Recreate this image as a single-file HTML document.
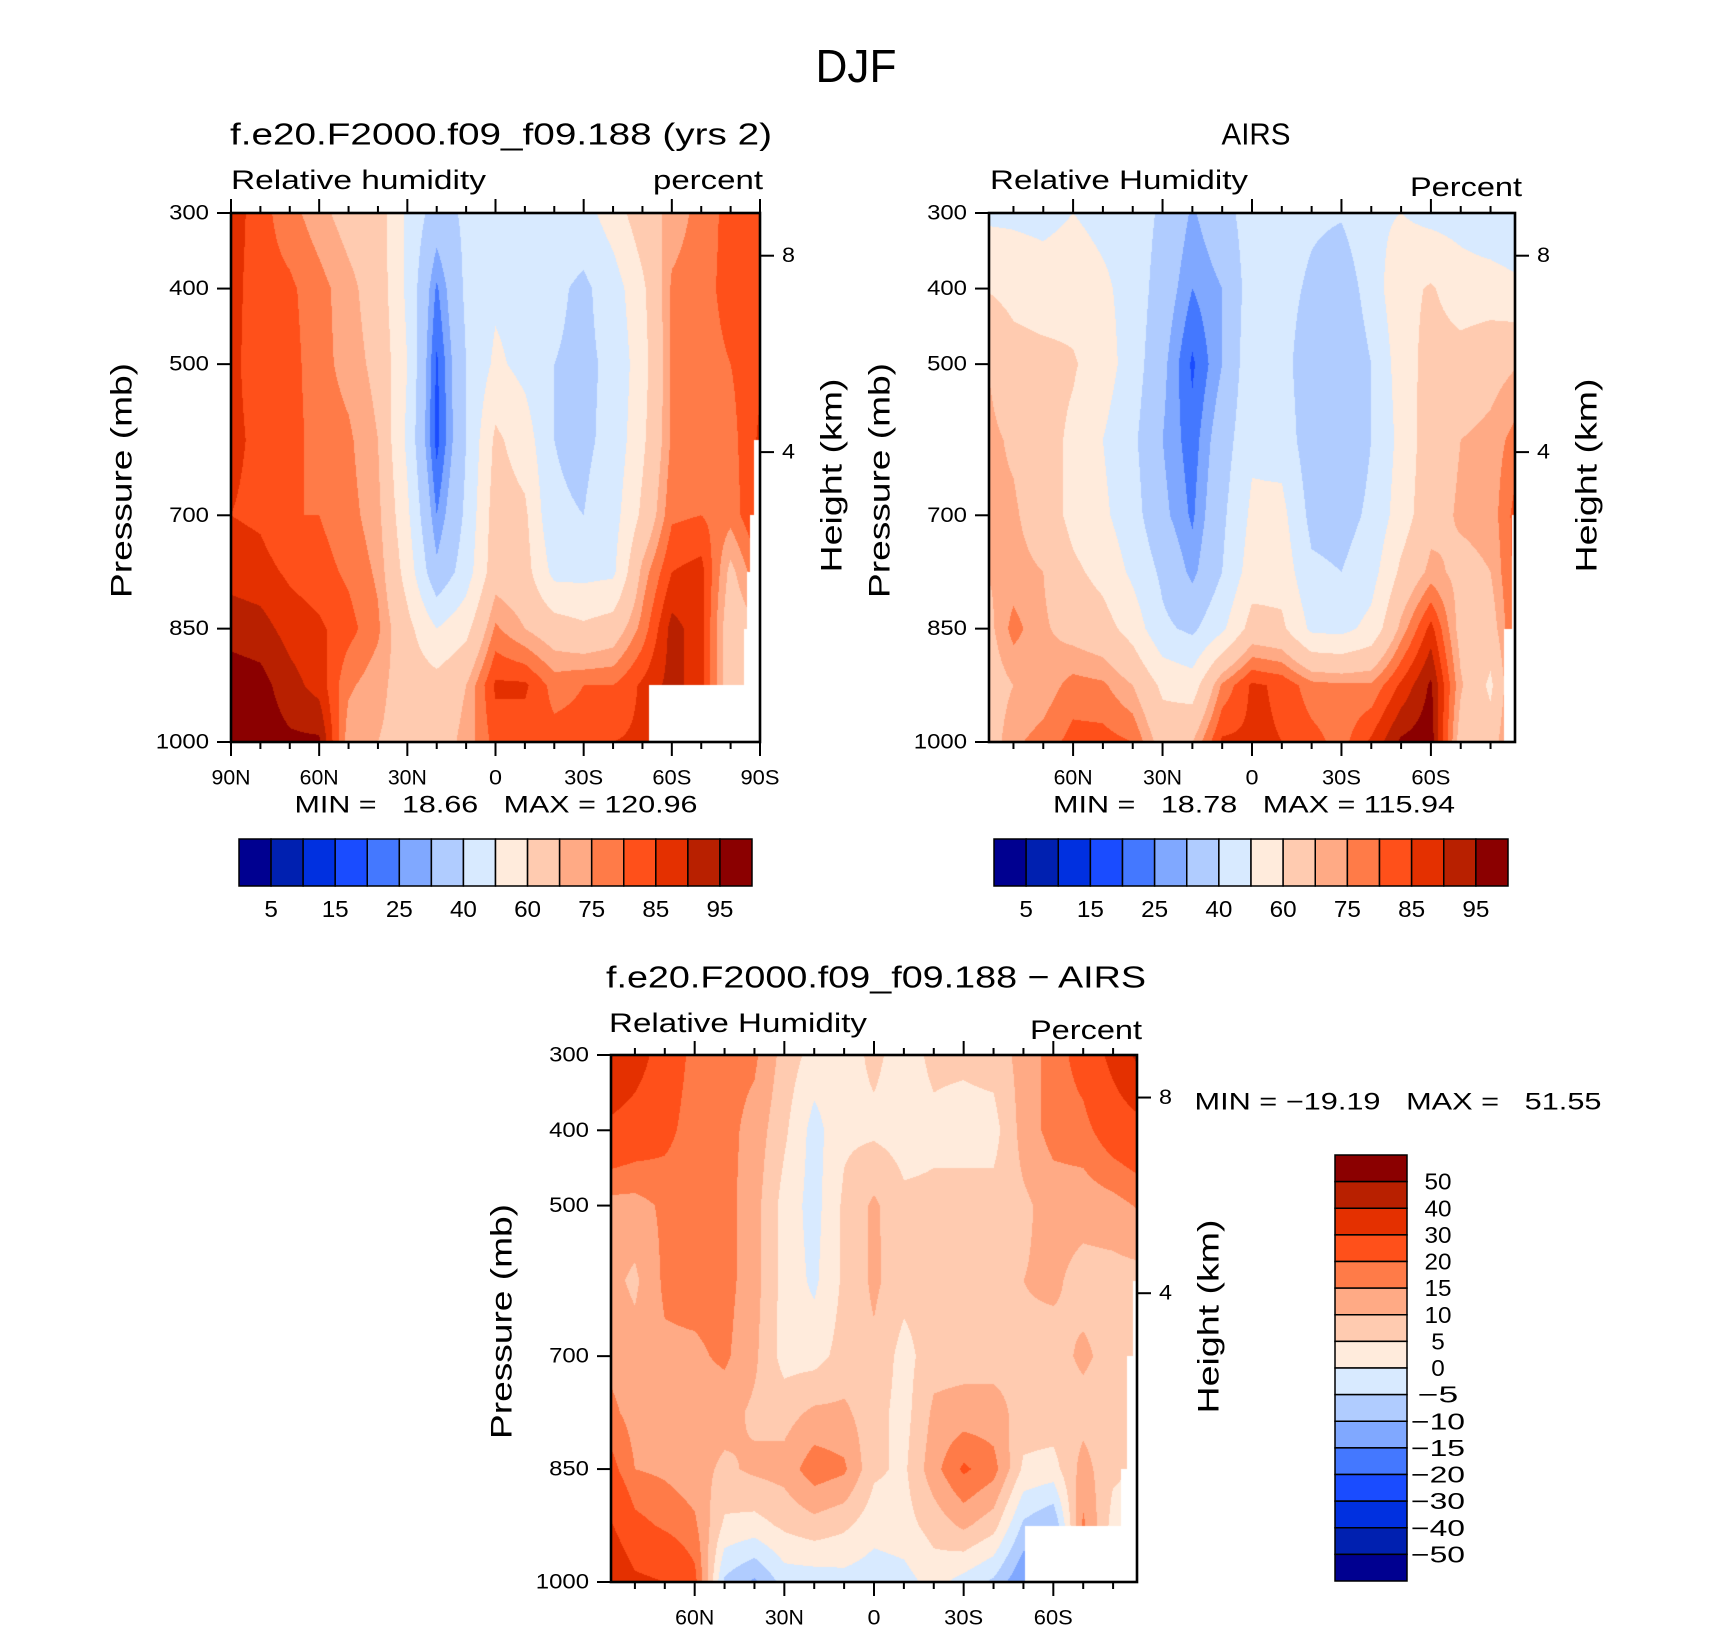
<!DOCTYPE html>
<html><head><meta charset="utf-8">
<style>
html,body{margin:0;padding:0;background:#fff;}
#wrap{position:relative;width:1710px;height:1631px;overflow:hidden;background:#fff;font-family:"Liberation Sans",sans-serif;}
canvas{position:absolute;}
#ov{position:absolute;left:0;top:0;}
text{white-space:pre;}
</style></head>
<body>
<div id="wrap">
<canvas id="c1"></canvas>
<canvas id="c2"></canvas>
<canvas id="c3"></canvas>
<svg id="ov" width="1710" height="1631"></svg>
</div>
<script>
// ---------- data ----------
const lats = [90,80,70,60,50,40,30,20,10,0,-10,-20,-30,-40,-50,-60,-70,-80,-90];
const levs = [300,400,500,600,700,775,850,925,1000];
const rhLevels = [5,10,15,20,25,30,40,50,60,70,75,80,85,90,95];
const rhLabels = ["5","","15","","25","","40","","60","","75","","85","","95"];
const diffLevels = [-50,-40,-30,-20,-15,-10,-5,0,5,10,15,20,30,40,50];
const diffLabels = ["50","40","30","20","15","10","5","0","\u22125","\u221210","\u221215","\u221220","\u221230","\u221240","\u221250"];
const fills = ['#000090','#0020B0','#0030E0','#1A4CFF','#4478FF','#80A8FF','#B0CCFF','#D8EAFF','#FFEBDC','#FFCBB0','#FFAA85','#FF7B48','#FF501A','#E43000','#B82000','#8B0000'];
const model = [
[88,82,77,72,67,65,48,35,42,48,47,46,46,55,66,72,77,82,82],
[87,82,81,77,72,66,48,24,42,48,46,42,38,45,58,76,78,82,82],
[86,83,82,77,73,68,50,19,40,52,47,40,38,42,56,76,78,80,84],
[86,84,82,78,76,70,48,18,40,62,55,40,38,43,58,76,80,78,86],
[85,84,80,80,77,72,52,25,42,65,62,41,40,46,62,79,80,77,86],
[88,87,84,82,79,74,56,32,45,66,64,47,47,48,72,85,87,68,80],
[93,92,88,86,82,76,63,50,57,76,70,65,62,65,77,92,87,64,70],
[98,97,92,88,76,72,66,64,70,86,86,78,80,80,86,92,87,64,70],
[98,98,96,96,72,70,67,66,72,82,82,82,82,85,86,90,87,64,70]];
const airs = [
[48,48,47,50,47,46,38,29,36,45,45,42,41,48,50,47,46,42,40],
[60,57,55,56,52,46,35,25,30,45,44,38,33,45,57,61,55,55,52],
[71,64,63,61,55,45,32,19,30,47,44,33,30,40,55,64,64,67,70],
[72,69,64,58,50,42,30,22,35,48,46,34,32,40,53,66,70,72,78],
[71,71,66,57,52,44,32,24,38,52,53,37,36,42,55,67,71,72,84],
[70,72,70,62,57,48,38,28,40,55,56,42,40,46,62,72,68,70,84],
[66,77,71,67,64,56,42,38,48,64,62,48,47,53,72,87,67,66,84],
[65,70,72,77,76,70,58,55,76,86,84,77,76,76,86,96,71,58,84],
[64,74,77,82,82,80,66,70,86,86,85,82,78,86,96,98,66,65,84]];
const diff = [
[42,35,25,18,17,16,8,3,3,6,3,6,6,7,12,17,23,33,44],
[28,25,22,17,17,13,6,-2,4,4,3,4,3,3,12,17,18,24,27],
[13,13,16,17,17,12,3,-2,6,11,6,6,7,7,9,12,12,13,16],
[12,9,16,17,17,12,3,-1,6,11,7,7,7,8,10,11,8,8,8],
[14,12,14,14,16,11,3,3,7,9,3,8,8,8,9,8,11,8,4],
[17,13,13,12,12,9,8,11,11,7,3,11,12,12,8,8,8,7,4],
[24,15,14,12,9,11,12,18,16,6,4,13,21,17,4,3,12,6,4],
[33,22,19,16,4,3,6,8,6,2,3,7,11,7,-6,-10,16,3,3],
[42,32,30,22,-6,-11,-3,-3,-2,-3,-2,2,-2,-6,-15,-10,16,3,3]];
const missModel = [[-52.4,925],[-88,600],[-86.5,700],[-85.5,775],[-84.5,850]];
const missAirs = [[-87.3,700],[-84.6,850]];
const missDiff = [[-50.4,925],[-82.5,850],[-84.7,700],[-86.5,600]];
const heightTickP = [356.5,616.4];
const heightTickLab = ["8","4"];
const pTicks = [300,400,500,700,850,1000];
const xTicksFull = [90,60,30,0,-30,-60,-90];
const xLabFull = ["90N","60N","30N","0","30S","60S","90S"];
const xTicksPart = [60,30,0,-30,-60];
const xLabPart = ["60N","30N","0","30S","60S"];

// ---------- helpers ----------
const NS = "http://www.w3.org/2000/svg";
const svg = document.getElementById('ov');
function mk(tag, attrs){ const e=document.createElementNS(NS,tag); for(const k in attrs) e.setAttribute(k,attrs[k]); svg.appendChild(e); return e; }
function txt(x,y,s,size,anchor,name,rot,len){
  const e = mk('text',{x:x,y:y,'font-size':size,'text-anchor':anchor||'middle','dominant-baseline':'central','font-family':'"Liberation Sans",sans-serif',fill:'#000'});
  if(rot) e.setAttribute('transform','rotate(-90 '+x+' '+y+')');
  if(len){ e.setAttribute('textLength', len); e.setAttribute('lengthAdjust','spacingAndGlyphs'); }
  e.textContent = s;
  
  
  return e;
}
function line(x1,y1,x2,y2,w,name){
  const e = mk('line',{x1:x1,y1:y1,x2:x2,y2:y2,stroke:'#000','stroke-width':w});
  
  
  return e;
}
function levelIndex(v, lv){ let i=0; while(i<lv.length && v>=lv[i]) i++; return i; }
function hex(c){ return [parseInt(c.substr(1,2),16),parseInt(c.substr(3,2),16),parseInt(c.substr(5,2),16)]; }
const rgb = fills.map(hex);
function sample(grid, lat, p){
  let i=0; while(i<lats.length-2 && lat < lats[i+1]) i++;
  let j=0; while(j<levs.length-2 && p > levs[j+1]) j++;
  const tx = (lats[i]-lat)/(lats[i]-lats[i+1]);
  const ty = (p-levs[j])/(levs[j+1]-levs[j]);
  const a=grid[j][i], b=grid[j][i+1], c=grid[j+1][i], d=grid[j+1][i+1];
  return a*(1-tx)*(1-ty)+b*tx*(1-ty)+c*(1-tx)*ty+d*tx*ty;
}
function numLen(s){ return s.length*13.3; }

function panel(o){
  const cv = document.getElementById(o.canvas);
  cv.width=o.w; cv.height=o.h; cv.style.left=o.x+'px'; cv.style.top=o.y+'px';
  const ctx = cv.getContext('2d'); const img = ctx.createImageData(o.w,o.h);
  const pxLat = px => o.latN - (px)/o.w*(o.latN-o.latS);
  const pyP = py => 300 + py/o.h*700;
  for(let py=0;py<o.h;py++){
    const p = pyP(py+0.5);
    for(let px=0;px<o.w;px++){
      const lat = pxLat(px+0.5);
      let col=[255,255,255];
      let miss=false;
      for(const m of o.miss){ if(lat<=m[0] && p>=m[1]) { miss=true; break; } }
      if(!miss){ col = rgb[levelIndex(sample(o.grid,lat,p), o.levels)]; }
      const k=(py*o.w+px)*4; img.data[k]=col[0]; img.data[k+1]=col[1]; img.data[k+2]=col[2]; img.data[k+3]=255;
    }
  }
  ctx.putImageData(img,0,0);
  const X = lat => o.x + (o.latN-lat)/(o.latN-o.latS)*o.w;
  const Y = p => o.y + (p-300)/700*o.h;
  const fr = mk('rect',{x:o.x,y:o.y,width:o.w,height:o.h,fill:'none',stroke:'#000','stroke-width':2.6});
  
  
  for(let l=80; l>=-80; l-=10){
    if(l>o.latN||l<o.latS) continue;
    const maj = (l%30===0);
    const x=X(l), len = maj?14:7;
    line(x,o.y,x,o.y-len,2,o.id+'-top-tick');
    line(x,o.y+o.h,x,o.y+o.h+len,2,o.id+'-bottom-tick');
  }
  if(o.full){ [90,-90].forEach(l=>{ line(X(l),o.y,X(l),o.y-14,2,o.id+'-top-tick'); line(X(l),o.y+o.h,X(l),o.y+o.h+14,2,o.id+'-bottom-tick'); }); }
  o.xt.forEach((l,i)=>txt(X(l), o.y+o.h+36, o.xl[i], 21, 'middle', o.id+'-x-tick-label', false, o.xl[i].length*13));
  pTicks.forEach(p=>{ const s=String(p); line(o.x,Y(p),o.x-14,Y(p),2,o.id+'-y-tick'); txt(o.x-22,Y(p),s,21,'end',o.id+'-y-tick-label',false,numLen(s)); });
  heightTickP.forEach((p,i)=>{ line(o.x+o.w,Y(p),o.x+o.w+14,Y(p),2,o.id+'-height-tick'); txt(o.x+o.w+22,Y(p),heightTickLab[i],21,'start',o.id+'-height-tick-label',false,13); });
  txt(o.x-109, o.y+o.h/2+3, 'Pressure (mb)', 30, 'middle', o.id+'-y-axis-title', true, 235);
  txt(o.x+o.w+72, o.y+o.h/2-2, 'Height (km)', 30, 'middle', o.id+'-height-axis-title', true, 194);
}

panel({id:'model',canvas:'c1',x:231,y:213,w:529,h:529,latN:90,latS:-90,grid:model,levels:rhLevels,miss:missModel,full:true,xt:xTicksFull,xl:xLabFull});
panel({id:'airs',canvas:'c2',x:989,y:213,w:526,h:529,latN:88.2,latS:-88.2,grid:airs,levels:rhLevels,miss:missAirs,full:false,xt:xTicksPart,xl:xLabPart});
panel({id:'diff',canvas:'c3',x:611,y:1055,w:526,h:527,latN:88,latS:-88,grid:diff,levels:diffLevels,miss:missDiff,full:false,xt:xTicksPart,xl:xLabPart});

txt(856,66,'DJF',46,'middle','figure-title',false,81);
txt(501,134,'f.e20.F2000.f09_f09.188 (yrs 2)',31,'middle','model-title',false,542);
txt(231,180,'Relative humidity',27,'start','model-left-subtitle',false,255);
txt(763,180,'percent',27,'end','model-units',false,110);
txt(1256,134,'AIRS',31,'middle','airs-title',false,69);
txt(990,180,'Relative Humidity',27,'start','airs-left-subtitle',false,258);
txt(1522,187,'Percent',27,'end','airs-units',false,112);
txt(876,977,'f.e20.F2000.f09_f09.188 \u2212 AIRS',31,'middle','diff-title',false,540);
txt(609,1023,'Relative Humidity',27,'start','diff-left-subtitle',false,258);
txt(1142,1030,'Percent',27,'end','diff-units',false,112);
txt(496,805,'MIN =   18.66   MAX = 120.96',24,'middle','model-min-max',false,403);
txt(1254,805,'MIN =   18.78   MAX = 115.94',24,'middle','airs-min-max',false,402);
txt(1398,1102,'MIN = \u221219.19   MAX =   51.55',24,'middle','diff-min-max',false,407);

function hbar(x0,x1,y0,y1,name){
  const bw=(x1-x0)/fills.length;
  fills.forEach((c,i)=>{
    const r = mk('rect',{x:x0+i*bw,y:y0,width:bw,height:y1-y0,fill:c,stroke:'#000','stroke-width':1.5});
    
    
  });
  rhLabels.forEach((s,i)=>{ if(s) txt(x0+(i+1)*bw, y1+23, s, 23, 'middle', name+'-label', false, s.length*13.5); });
}
hbar(239,752,839,886,'model-colorbar');
hbar(994,1508,839,886,'airs-colorbar');
(function(){
  const x0=1335,x1=1407,y0=1155,y1=1581,bh=(y1-y0)/fills.length;
  fills.slice().reverse().forEach((c,i)=>{
    const r = mk('rect',{x:x0,y:y0+i*bh,width:x1-x0,height:bh,fill:c,stroke:'#000','stroke-width':1.5});
    
    
  });
  diffLabels.forEach((s,i)=>txt(1438, y0+(i+1)*bh, s, 23, 'middle', 'diff-colorbar-label', false, s.replace('\u2212','--').length*13.5));
})();
</script>
</body></html>
